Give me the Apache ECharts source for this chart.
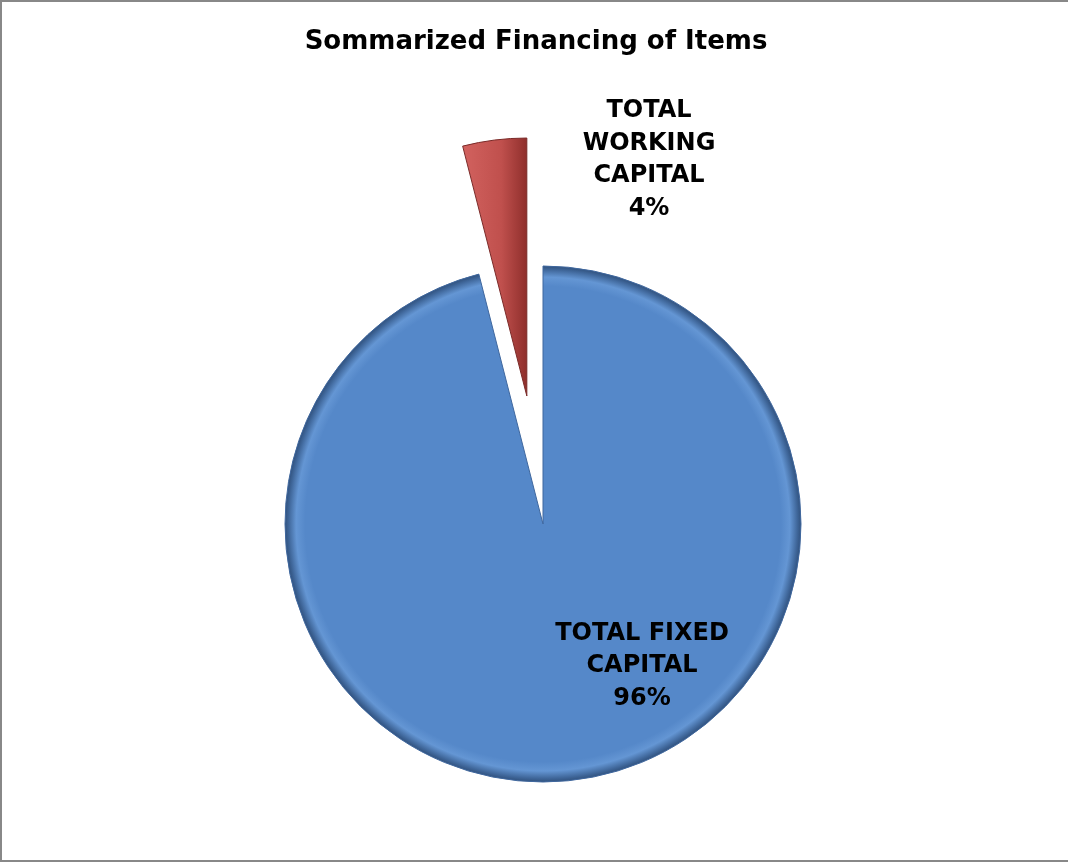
<!DOCTYPE html>
<html><head><meta charset="utf-8">
<script src="https://cdn.jsdelivr.net/npm/echarts@6/dist/echarts.min.js"></script>
<style>html,body{margin:0;padding:0;background:#fff}#c{width:1068px;height:864px}</style>
</head><body><div id="c"></div>
<script>
const categories = ['TOTAL FIXED\nCAPITAL', 'TOTAL\nWORKING\nCAPITAL'];
const values = [96, 4];
const colors = ['#5588C9', '#C0504D'];
const labelPos = [[642, 666], [649, 160]];
const explodedIndex = 1;

const chart = echarts.init(document.getElementById('c'), null, {renderer: 'canvas'});
const C = [543, 524], R = 258, OFFSET = 129;
const total = values.reduce((a, b) => a + b, 0);
let before = 0; for (let i = 0; i < explodedIndex; i++) before += values[i];
const midDeg = 90 - 360 * (before + values[explodedIndex] / 2) / total;
const midRad = midDeg * Math.PI / 180;
const C2 = [C[0] + OFFSET * Math.cos(midRad), C[1] - OFFSET * Math.sin(midRad)];

function blueGrad() {
  return {type: 'radial', x: 0.5, y: 0.5, r: 0.5, colorStops: [
    {offset: 0, color: colors[0]}, {offset: 0.92, color: colors[0]},
    {offset: 0.955, color: '#6496D4'}, {offset: 0.985, color: '#3E6598'}, {offset: 1, color: '#2F4F7A'}]};
}
const redGrad = {type: 'linear', x: 0, y: 0, x2: 1, y2: 0, colorStops: [
  {offset: 0, color: '#D2625F'}, {offset: 0.6, color: colors[1]}, {offset: 1, color: '#8E2E2B'}]};

function makeData(visibleIdx) {
  return categories.map((n, i) => ({
    name: n, value: values[i],
    itemStyle: i === visibleIdx
      ? {color: i === 0 ? blueGrad() : redGrad, borderColor: i === 0 ? '#3F679E' : '#7A2A28', borderWidth: 1}
      : {color: 'rgba(0,0,0,0)', borderWidth: 0},
    label: {show: i === visibleIdx}
  }));
}
const labelStyle = {position: 'inside', formatter: '{b}\n{d}%',
  fontFamily: 'DejaVu Sans', fontWeight: 'bold', fontSize: 24, lineHeight: 32.5,
  color: '#000', align: 'center'};
function layoutFn(p) {
  const pos = labelPos[p.dataIndex];
  return {x: pos[0], y: pos[1], align: 'center', verticalAlign: 'middle'};
}
const border = {stroke: '#888', lineWidth: 2};
chart.setOption({
  animation: false,
  title: {text: 'Sommarized Financing of Items', left: 531, top: 24, textAlign: 'center',
    textStyle: {fontFamily: 'DejaVu Sans', fontWeight: 'bold', fontSize: 26, color: '#000'}},
  graphic: [
    {type: 'line', shape: {x1: 1, y1: 0, x2: 1, y2: 862}, style: border, silent: true},
    {type: 'line', shape: {x1: 0, y1: 1, x2: 1068, y2: 1}, style: border, silent: true},
    {type: 'line', shape: {x1: 0, y1: 861, x2: 1068, y2: 861}, style: border, silent: true}
  ],
  series: [0, 1].map(k => ({
    type: 'pie', center: k === 0 ? C : C2, radius: R, startAngle: 90, clockwise: true,
    data: makeData(k), label: labelStyle, labelLine: {show: false},
    labelLayout: layoutFn, emphasis: {disabled: true}, silent: true
  }))
});
</script></body></html>
